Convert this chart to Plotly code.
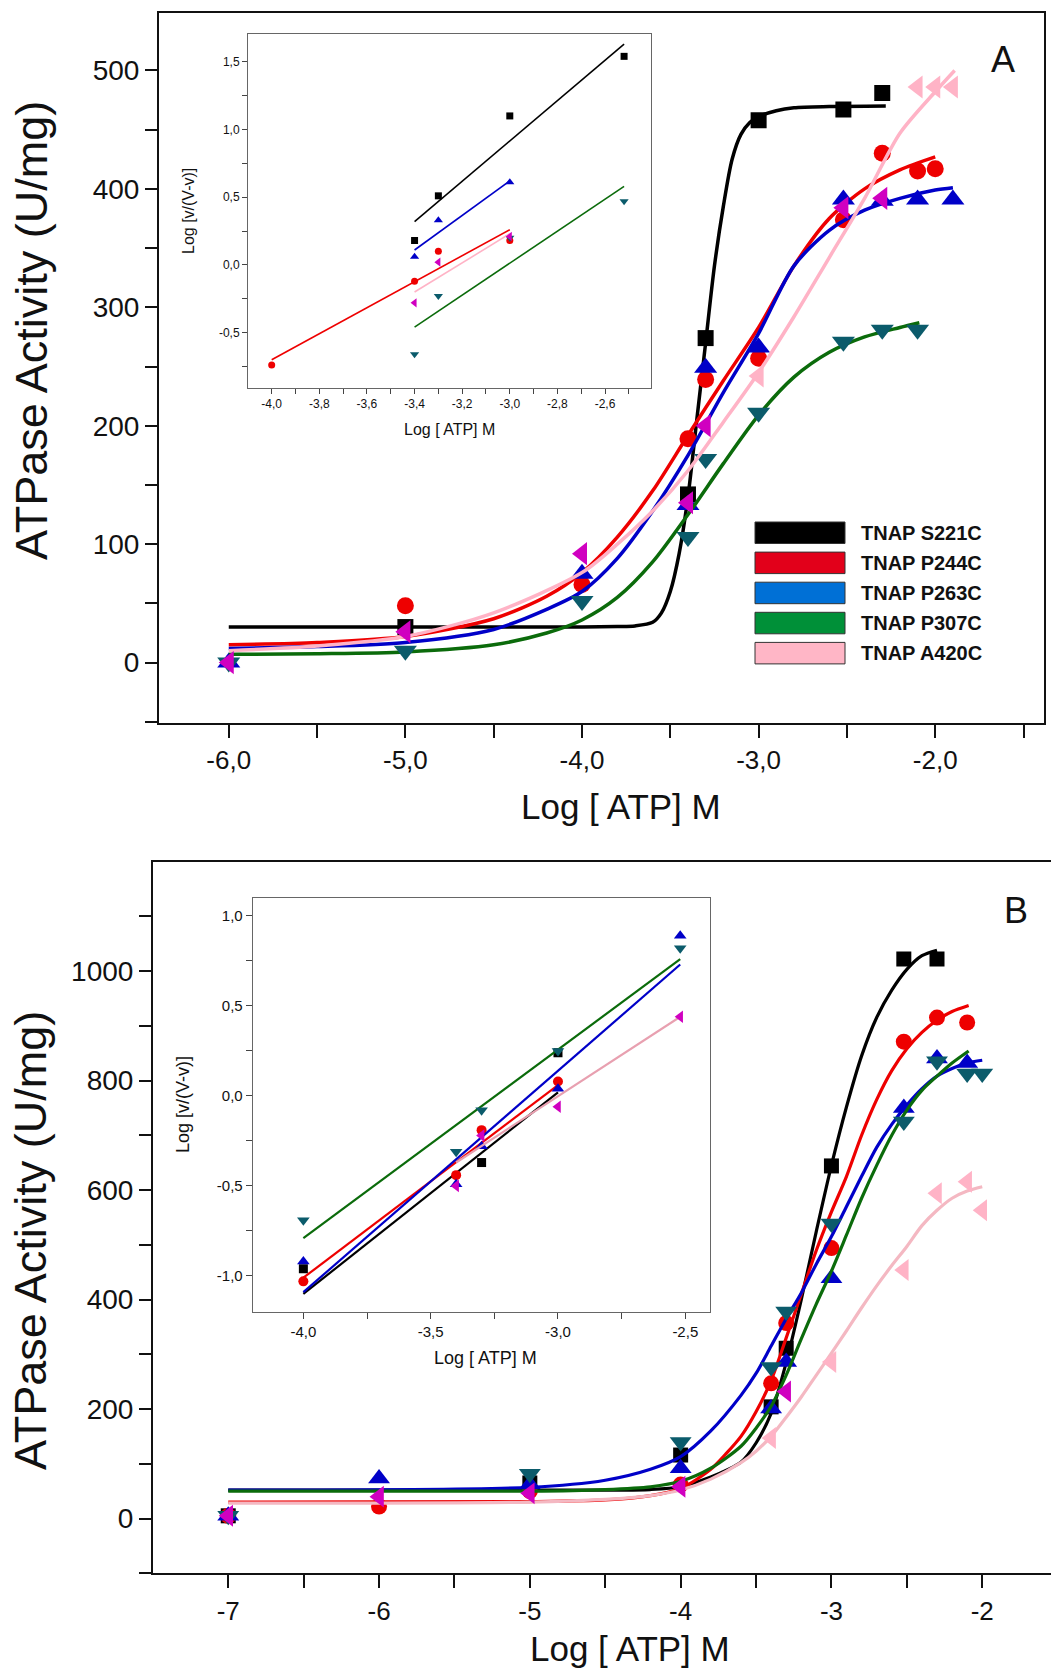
import plotly.graph_objects as go

W, H = 1051, 1673

# ---------------- Panel A : main plot data ----------------
A_S221C_x = [-5.0, -3.4, -3.3, -3.0, -2.52, -2.3]
A_S221C_y = [30, 142, 274, 458, 467, 481]
A_P244C_x = [-5.0, -4.0, -3.4, -3.3, -3.0, -2.52, -2.3, -2.1, -2.0]
A_P244C_y = [48, 66, 189, 239, 257, 374, 430, 415, 417]
A_P263C_x = [-6.0, -4.0, -3.4, -3.3, -3.0, -2.52, -2.3, -2.1, -1.9]
A_P263C_y = [0, 75, 133, 249, 266, 391, 390, 391, 391]
A_P307C_x = [-6.0, -5.0, -4.0, -3.4, -3.3, -3.0, -2.52, -2.3, -2.1]
A_P307C_y = [0, 10, 52, 106, 172, 211, 271, 281, 281]
A_A420C_x = [-6.0, -5.0, -4.0, -3.4, -3.3, -3.0, -2.52, -2.3, -2.1, -2.0, -1.9]
A_A420C_y = [0, 26, 92, 135, 200, 242, 384, 392, 486, 486, 486]

# fitted curves
A_S221C_fit_x = [-6.0, -4.0, -3.8, -3.7, -3.6, -3.55, -3.5, -3.45, -3.4, -3.35, -3.3, -3.25, -3.2, -3.15, -3.1, -3.05, -3.0, -2.9, -2.8, -2.6, -2.28]
A_S221C_fit_y = [30, 30, 30.5, 31, 34, 42, 60, 92, 140, 205, 270, 335, 385, 425, 446, 456, 461, 466, 468.5, 469.5, 470]
A_P244C_fit_x = [-6.0, -5.5, -5.0, -4.5, -4.2, -4.0, -3.8, -3.6, -3.4, -3.2, -3.0, -2.8, -2.6, -2.4, -2.2, -2.0]
A_P244C_fit_y = [15, 17, 22, 37, 56, 76, 106, 145, 192, 238, 283, 335, 375, 400, 416, 427]
A_P263C_fit_x = [-6.0, -5.5, -5.0, -4.5, -4.2, -4.0, -3.8, -3.6, -3.4, -3.2, -3.0, -2.8, -2.6, -2.4, -2.2, -2.0, -1.9]
A_P263C_fit_y = [12, 13.5, 17, 28, 45, 60, 88, 128, 175, 228, 278, 335, 365, 382, 392, 399, 401]
A_P307C_fit_x = [-6.0, -5.5, -5.0, -4.5, -4.2, -4.0, -3.8, -3.6, -3.4, -3.2, -3.0, -2.8, -2.6, -2.4, -2.2, -2.09]
A_P307C_fit_y = [7, 7.5, 9, 15, 25, 36, 55, 85, 125, 168, 209, 241, 262, 275, 283, 287]
A_A420C_fit_x = [-6.0, -5.5, -5.0, -4.5, -4.0, -3.8, -3.6, -3.4, -3.2, -3.0, -2.8, -2.6, -2.4, -2.2, -2.0, -1.89]
A_A420C_fit_y = [10, 14, 22, 42, 76, 100, 128, 162, 203, 245, 292, 342, 392, 447, 482, 500]

# ---------------- Panel A : inset (Hill plot) ----------------
IA_S221C_x = [-3.4, -3.3, -3.0, -2.52]
IA_S221C_y = [0.18, 0.51, 1.10, 1.54]
IA_S221C_fit_x = [-3.4, -2.52]
IA_S221C_fit_y = [0.32, 1.63]
IA_P244C_x = [-4.0, -3.4, -3.3, -3.0]
IA_P244C_y = [-0.74, -0.12, 0.10, 0.18]
IA_P244C_fit_x = [-4.0, -3.0]
IA_P244C_fit_y = [-0.70, 0.26]
IA_P263C_x = [-3.4, -3.3, -3.0]
IA_P263C_y = [0.06, 0.33, 0.61]
IA_P263C_fit_x = [-3.4, -3.0]
IA_P263C_fit_y = [0.11, 0.62]
IA_P307C_x = [-3.4, -3.3, -3.0, -2.52]
IA_P307C_y = [-0.66, -0.23, 0.20, 0.47]
IA_P307C_fit_x = [-3.4, -2.52]
IA_P307C_fit_y = [-0.46, 0.58]
IA_A420C_x = [-3.4, -3.3, -3.0]
IA_A420C_y = [-0.28, 0.02, 0.21]
IA_A420C_fit_x = [-3.4, -3.0]
IA_A420C_fit_y = [-0.20, 0.23]

# ---------------- Panel B : main plot data ----------------
B_S221C_x = [-7.0, -5.0, -4.0, -3.4, -3.3, -3.0, -2.52, -2.3]
B_S221C_y = [5, 65, 116, 204, 311, 644, 1022, 1022]
B_P244C_x = [-7.0, -6.0, -5.0, -4.0, -3.4, -3.3, -3.0, -2.52, -2.3, -2.1]
B_P244C_y = [5, 22, 50, 62, 247, 357, 494, 871, 915, 906]
B_P263C_x = [-7.0, -6.0, -5.0, -4.0, -3.4, -3.3, -3.0, -2.52, -2.3, -2.1]
B_P263C_y = [5, 73, 62, 92, 201, 286, 439, 750, 840, 832]
B_P307C_x = [-7.0, -5.0, -4.0, -3.4, -3.3, -3.0, -2.52, -2.3, -2.1, -2.0]
B_P307C_y = [5, 82, 140, 277, 378, 539, 725, 835, 813, 813]
B_A420C_x = [-7.0, -6.0, -5.0, -4.0, -3.4, -3.3, -3.0, -2.52, -2.3, -2.1, -2.0]
B_A420C_y = [5, 40, 46, 58, 147, 232, 286, 454, 594, 615, 563]

B_S221C_fit_x = [-7.0, -5.0, -4.5, -4.2, -4.0, -3.8, -3.7, -3.6, -3.5, -3.4, -3.3, -3.2, -3.1, -3.0, -2.9, -2.8, -2.7, -2.6, -2.5, -2.4, -2.3]
B_S221C_fit_y = [52, 52, 52, 53, 58, 76, 88, 103, 138, 192, 285, 400, 525, 645, 752, 845, 915, 965, 1003, 1028, 1038]
B_P244C_fit_x = [-7.0, -5.0, -4.5, -4.2, -4.0, -3.8, -3.7, -3.6, -3.5, -3.4, -3.3, -3.2, -3.1, -3.0, -2.9, -2.8, -2.7, -2.6, -2.5, -2.4, -2.3, -2.2, -2.09]
B_P244C_fit_y = [30, 31, 34, 42, 55, 90, 118, 150, 195, 252, 330, 410, 490, 560, 625, 700, 765, 818, 858, 888, 910, 926, 937]
B_P263C_fit_x = [-7.0, -5.0, -4.5, -4.2, -4.0, -3.8, -3.6, -3.5, -3.4, -3.3, -3.2, -3.1, -3.0, -2.9, -2.8, -2.7, -2.6, -2.5, -2.4, -2.3, -2.2, -2.1, -2.0]
B_P263C_fit_y = [52, 57, 70, 90, 113, 160, 225, 265, 315, 365, 412, 465, 515, 570, 625, 678, 720, 755, 785, 808, 822, 832, 837]
B_P307C_fit_x = [-7.0, -5.0, -4.5, -4.2, -4.0, -3.8, -3.6, -3.5, -3.4, -3.3, -3.2, -3.1, -3.0, -2.9, -2.8, -2.7, -2.6, -2.5, -2.4, -2.3, -2.2, -2.09]
B_P307C_fit_y = [50, 50, 53, 58, 68, 92, 132, 165, 205, 262, 328, 392, 452, 518, 585, 645, 700, 746, 782, 808, 832, 854]
B_A420C_fit_x = [-7.0, -5.0, -4.5, -4.2, -4.0, -3.8, -3.6, -3.5, -3.4, -3.3, -3.2, -3.1, -3.0, -2.9, -2.8, -2.7, -2.6, -2.5, -2.4, -2.3, -2.2, -2.1, -2.0]
B_A420C_fit_y = [28, 30, 35, 42, 52, 72, 102, 123, 150, 185, 222, 262, 302, 343, 385, 425, 462, 497, 535, 563, 585, 598, 606]

# ---------------- Panel B : inset (Hill plot) ----------------
IB_S221C_x = [-4.0, -3.3, -3.0]
IB_S221C_y = [-0.96, -0.37, 0.24]
IB_S221C_fit_x = [-4.0, -3.0]
IB_S221C_fit_y = [-1.10, 0.02]
IB_P244C_x = [-4.0, -3.4, -3.3, -3.0]
IB_P244C_y = [-1.03, -0.44, -0.19, 0.08]
IB_P244C_fit_x = [-4.0, -3.0]
IB_P244C_fit_y = [-1.01, 0.06]
IB_P263C_x = [-4.0, -3.4, -3.3, -3.0, -2.52]
IB_P263C_y = [-0.92, -0.49, -0.28, 0.04, 0.89]
IB_P263C_fit_x = [-4.0, -2.52]
IB_P263C_fit_y = [-1.09, 0.73]
IB_P307C_x = [-4.0, -3.4, -3.3, -3.0, -2.52]
IB_P307C_y = [-0.69, -0.31, -0.08, 0.25, 0.82]
IB_P307C_fit_x = [-4.0, -2.52]
IB_P307C_fit_y = [-0.79, 0.76]
IB_A420C_x = [-3.4, -3.3, -3.0, -2.52]
IB_A420C_y = [-0.50, -0.22, -0.06, 0.44]
IB_A420C_fit_x = [-3.4, -2.52]
IB_A420C_fit_y = [-0.37, 0.44]

# ---------------- tick labels ----------------
A_xtick_vals = [-6, -5, -4, -3, -2]
A_xtick_text = ["-6,0", "-5,0", "-4,0", "-3,0", "-2,0"]
A_xminor_vals = [-5.5, -4.5, -3.5, -2.5, -1.5]
A_ytick_vals = [0, 100, 200, 300, 400, 500]
A_ytick_text = ["0", "100", "200", "300", "400", "500"]
A_yminor_vals = [-50, 50, 150, 250, 350, 450]
IA_xtick_vals = [-4.0, -3.8, -3.6, -3.4, -3.2, -3.0, -2.8, -2.6, -2.4]
IA_xtick_text = ["-4,0", "-3,8", "-3,6", "-3,4", "-3,2", "-3,0", "-2,8", "-2,6", "-2,4"]
IA_xminor_vals = [-3.9, -3.7, -3.5, -3.3, -3.1, -2.9, -2.7, -2.5]
IA_ytick_vals = [-0.5, 0.0, 0.5, 1.0, 1.5]
IA_ytick_text = ["-0,5", "0,0", "0,5", "1,0", "1,5"]
IA_yminor_vals = [-0.75, -0.25, 0.25, 0.75, 1.25]
B_xtick_vals = [-7, -6, -5, -4, -3, -2]
B_xtick_text = ["-7", "-6", "-5", "-4", "-3", "-2"]
B_xminor_vals = [-7.5, -6.5, -5.5, -4.5, -3.5, -2.5]
B_ytick_vals = [0, 200, 400, 600, 800, 1000]
B_ytick_text = ["0", "200", "400", "600", "800", "1000"]
B_yminor_vals = [-100, 100, 300, 500, 700, 900, 1100]
IB_xtick_vals = [-4.0, -3.5, -3.0, -2.5]
IB_xtick_text = ["-4,0", "-3,5", "-3,0", "-2,5"]
IB_xminor_vals = [-3.75, -3.25, -2.75]
IB_ytick_vals = [-1.0, -0.5, 0.0, 0.5, 1.0]
IB_ytick_text = ["-1,0", "-0,5", "0,0", "0,5", "1,0"]
IB_yminor_vals = [-0.75, -0.25, 0.25, 0.75]

legend_labels = ["TNAP S221C", "TNAP P244C", "TNAP P263C", "TNAP P307C", "TNAP A420C"]

# ---------------- styles ----------------
BLACK = "#000000"
RED = "#EE0000"
BLUE = "#0000C8"
TEAL = "#0B5B6B"
GREEN = "#0B6B0B"
PINK = "#FFB3C6"
PINKLINE_B = "#F4B8C2"
MAGENTA = "#D000C0"
A_A420C_colors = [MAGENTA, MAGENTA, MAGENTA, MAGENTA, MAGENTA, PINK, MAGENTA, MAGENTA, PINK, PINK, PINK]
B_A420C_colors = [MAGENTA, MAGENTA, MAGENTA, MAGENTA, PINK, MAGENTA, PINK, PINK, PINK, PINK, PINK]
legend_colors = ["#000000", "#E2001A", "#0070D6", "#009038", "#FFB6C6"]

SANS = "Liberation Sans, Arial, Helvetica, sans-serif"


def px(x):
    return x / W


def py(y):
    return 1 - y / H


traces = []


def add_pts(x, y, sym, size, color, xa, ya):
    traces.append(go.Scatter(x=x, y=y, mode="markers", xaxis=xa, yaxis=ya,
                             marker=dict(symbol=sym, size=size, color=color, line=dict(width=0)),
                             showlegend=False, hoverinfo="skip"))


def add_fit(x, y, color, width, xa, ya, spline=True):
    traces.append(go.Scatter(x=x, y=y, mode="lines", xaxis=xa, yaxis=ya,
                             line=dict(color=color, width=width,
                                       shape="spline" if spline else "linear", smoothing=0.8),
                             showlegend=False, hoverinfo="skip"))


# Panel A main
add_fit(A_S221C_fit_x, A_S221C_fit_y, BLACK, 3.5, "x", "y")
add_pts(A_S221C_x, A_S221C_y, "square", 16, BLACK, "x", "y")
add_fit(A_P244C_fit_x, A_P244C_fit_y, RED, 3.5, "x", "y")
add_pts(A_P244C_x, A_P244C_y, "circle", 17, RED, "x", "y")
add_fit(A_P263C_fit_x, A_P263C_fit_y, BLUE, 3.5, "x", "y")
add_pts(A_P263C_x, A_P263C_y, "triangle-up", 20, BLUE, "x", "y")
add_fit(A_P307C_fit_x, A_P307C_fit_y, GREEN, 3.5, "x", "y")
add_pts(A_P307C_x, A_P307C_y, "triangle-down", 20, TEAL, "x", "y")
add_fit(A_A420C_fit_x, A_A420C_fit_y, PINK, 3.5, "x", "y")
add_pts(A_A420C_x, A_A420C_y, "triangle-left", 20, A_A420C_colors, "x", "y")

# Panel A inset
add_fit(IA_S221C_fit_x, IA_S221C_fit_y, BLACK, 1.6, "x2", "y2", False)
add_pts(IA_S221C_x, IA_S221C_y, "square", 7, BLACK, "x2", "y2")
add_fit(IA_P244C_fit_x, IA_P244C_fit_y, RED, 1.6, "x2", "y2", False)
add_pts(IA_P244C_x, IA_P244C_y, "circle", 7, RED, "x2", "y2")
add_fit(IA_P263C_fit_x, IA_P263C_fit_y, BLUE, 1.6, "x2", "y2", False)
add_pts(IA_P263C_x, IA_P263C_y, "triangle-up", 8, BLUE, "x2", "y2")
add_fit(IA_P307C_fit_x, IA_P307C_fit_y, GREEN, 1.6, "x2", "y2", False)
add_pts(IA_P307C_x, IA_P307C_y, "triangle-down", 8, TEAL, "x2", "y2")
add_fit(IA_A420C_fit_x, IA_A420C_fit_y, PINK, 1.6, "x2", "y2", False)
add_pts(IA_A420C_x, IA_A420C_y, "triangle-left", 8, MAGENTA, "x2", "y2")

# Panel B main
add_fit(B_S221C_fit_x, B_S221C_fit_y, BLACK, 3.2, "x3", "y3")
add_pts(B_S221C_x, B_S221C_y, "square", 15, BLACK, "x3", "y3")
add_fit(B_P244C_fit_x, B_P244C_fit_y, RED, 3.2, "x3", "y3")
add_pts(B_P244C_x, B_P244C_y, "circle", 16, RED, "x3", "y3")
add_fit(B_P263C_fit_x, B_P263C_fit_y, BLUE, 3.2, "x3", "y3")
add_pts(B_P263C_x, B_P263C_y, "triangle-up", 19, BLUE, "x3", "y3")
add_fit(B_P307C_fit_x, B_P307C_fit_y, GREEN, 3.2, "x3", "y3")
add_pts(B_P307C_x, B_P307C_y, "triangle-down", 19, TEAL, "x3", "y3")
add_fit(B_A420C_fit_x, B_A420C_fit_y, PINKLINE_B, 3.2, "x3", "y3")
add_pts(B_A420C_x, B_A420C_y, "triangle-left", 19, B_A420C_colors, "x3", "y3")

# Panel B inset
add_fit(IB_S221C_fit_x, IB_S221C_fit_y, BLACK, 2.2, "x4", "y4", False)
add_pts(IB_S221C_x, IB_S221C_y, "square", 9, BLACK, "x4", "y4")
add_fit(IB_P244C_fit_x, IB_P244C_fit_y, RED, 2.2, "x4", "y4", False)
add_pts(IB_P244C_x, IB_P244C_y, "circle", 10, RED, "x4", "y4")
add_fit(IB_P263C_fit_x, IB_P263C_fit_y, BLUE, 2.2, "x4", "y4", False)
add_pts(IB_P263C_x, IB_P263C_y, "triangle-up", 11, BLUE, "x4", "y4")
add_fit(IB_P307C_fit_x, IB_P307C_fit_y, GREEN, 2.2, "x4", "y4", False)
add_pts(IB_P307C_x, IB_P307C_y, "triangle-down", 11, TEAL, "x4", "y4")
add_fit(IB_A420C_fit_x, IB_A420C_fit_y, "#E8A0B0", 2.2, "x4", "y4", False)
add_pts(IB_A420C_x, IB_A420C_y, "triangle-left", 11, MAGENTA, "x4", "y4")

fig = go.Figure(traces)


def ticks(vals, text, minor):
    allv = list(vals) + list(minor)
    allt = list(text) + [""] * len(minor)
    return allv, allt


def axis(domain, rng, vals, text, minor, size, anchor, mirror, lw, lc, tl, tw, tc):
    tv, tt = ticks(vals, text, minor)
    return dict(domain=domain, range=rng, anchor=anchor, showline=True, linecolor=lc, linewidth=lw,
                mirror=mirror, ticks="outside", ticklen=tl, tickwidth=tw, tickcolor=tc,
                tickmode="array", tickvals=tv, ticktext=tt, automargin=False,
                tickfont=dict(family=SANS, size=size, color="#111"),
                showgrid=False, zeroline=False, fixedrange=True)


layout = dict(
    template="none",
    width=W, height=H, autosize=False,
    margin=dict(l=0, r=0, t=0, b=0, pad=0),
    paper_bgcolor="white", plot_bgcolor="rgba(0,0,0,0)",
    showlegend=False,
    xaxis=axis([px(159), px(1043.5)], [-6.395, -1.387], A_xtick_vals, A_xtick_text, A_xminor_vals,
               26, "y", True, 2, "#111", 13, 2, "#111"),
    yaxis=axis([py(723), py(13)], [-51, 548.5], A_ytick_vals, A_ytick_text, A_yminor_vals,
               28, "x", True, 2, "#111", 12, 2, "#111"),
    xaxis2=axis([px(248), px(651)], [-4.0995, -2.407], IA_xtick_vals, IA_xtick_text, IA_xminor_vals,
                12, "y2", True, 1, "#666", 5, 1, "#444"),
    yaxis2=axis([py(388), py(34)], [-0.909, 1.705], IA_ytick_vals, IA_ytick_text, IA_yminor_vals,
                12, "x2", True, 1, "#666", 5, 1, "#444"),
    xaxis3=axis([px(153), 1.0], [-7.499, -1.544], B_xtick_vals, B_xtick_text, B_xminor_vals,
                26, "y3", True, 2, "#111", 13, 2, "#111"),
    yaxis3=axis([py(1573.3), py(861.5)], [-100, 1200], B_ytick_vals, B_ytick_text, B_yminor_vals,
                28, "x3", False, 2, "#111", 12, 2, "#111"),
    xaxis4=axis([px(252.7), px(710)], [-4.199, -2.403], IB_xtick_vals, IB_xtick_text, IB_xminor_vals,
                15, "y4", True, 1, "#666", 6, 1, "#444"),
    yaxis4=axis([py(1312.3), py(898.3)], [-1.202, 1.098], IB_ytick_vals, IB_ytick_text, IB_yminor_vals,
                15, "x4", True, 1, "#666", 6, 1, "#444"),
)
fig.update_layout(**layout)

ann = []


def text(x, y, s, size, angle=0, bold=False, xanchor="center", color="#111"):
    ann.append(dict(x=px(x), y=py(y), xref="paper", yref="paper", text=("<b>%s</b>" % s) if bold else s,
                    showarrow=False, textangle=angle, xanchor=xanchor, yanchor="middle",
                    font=dict(family=SANS, size=size, color=color)))


# axis titles
text(31, 331, "ATPase Activity (U/mg)", 45, -90)
text(621, 806, "Log [ ATP] M", 35)
text(30, 1241, "ATPase Activity (U/mg)", 45, -90)
text(630, 1648, "Log [ ATP] M", 35)
# inset titles
text(449, 430, "Log [ ATP] M", 16)
text(188, 211, "Log [v/(V-v)]", 16, -90)
text(485, 1358, "Log [ ATP] M", 18)
text(183, 1105, "Log [v/(V-v)]", 18, -90)
# panel letters
text(1003, 59, "A", 36)
text(1016, 910, "B", 36)

# legend (panel A)
shapes = []
for i, (lab, col) in enumerate(zip(legend_labels, legend_colors)):
    y0 = 522 + 30.1 * i
    shapes.append(dict(type="rect", xref="paper", yref="paper",
                       x0=px(755), x1=px(845), y0=py(y0 + 21.5), y1=py(y0),
                       fillcolor=col, line=dict(color="#333", width=1)))
    text(859, y0 + 10.8, lab, 20, 0, True, "left")

fig.update_layout(annotations=ann, shapes=shapes)
fig.write_html("out.html",
               config={"displayModeBar": False, "staticPlot": True},
               post_script="document.body.style.margin='0';document.body.style.padding='0';"
                           "document.documentElement.style.overflow='hidden';")
